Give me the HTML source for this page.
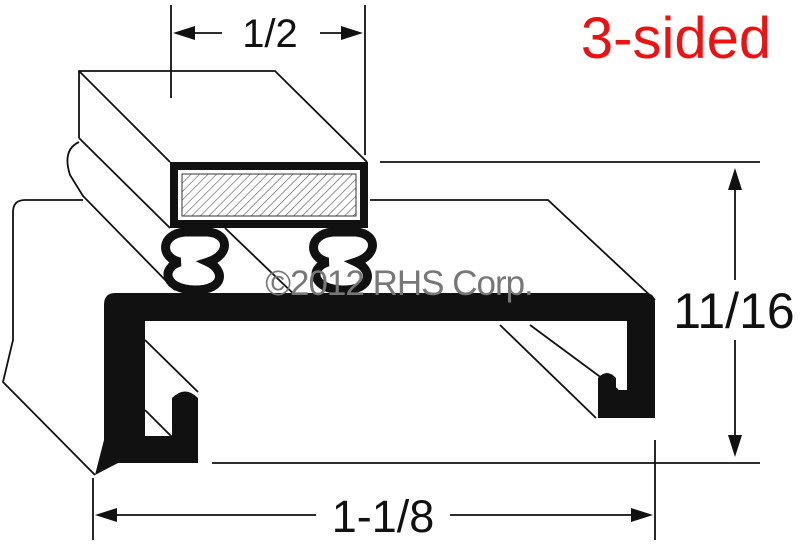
<!DOCTYPE html>
<html><head><style>body{margin:0;background:#fff}svg{display:block}</style></head><body>
<svg width="800" height="558" viewBox="0 0 800 558" xmlns="http://www.w3.org/2000/svg">
<defs>
<pattern id="h" width="6" height="6" patternUnits="userSpaceOnUse" patternTransform="rotate(45)">
<rect width="6" height="6" fill="#fff"/><line x1="0" y1="0" x2="0" y2="6" stroke="#555" stroke-width="1.2"/></pattern>
</defs>
<g fill="none" stroke="#111" stroke-width="1.8">
<path d="M83,200 L25,200 Q13,200 13,212 L13,340 L3,382 L95,475"/>
<path d="M370,200 L548,200 L655,300"/>
<path d="M79,138 L79,71 L275,71 L367,162"/>
<path d="M79,71 L170,162"/>
<path d="M79,138 L170,228"/>
<path d="M79,142 Q62,150 70,175 L83,196 L175,290"/>
<path d="M225,228 L300,300"/>
<path d="M145,340 L198,392"/>
<path d="M145,410 L172,437"/>
<path d="M500,325 L596,418"/>
<path d="M530,325 L618,390"/>
<path d="M171,5 L171,98 M365,5 L365,155"/>
<path d="M190,33 L222,33 M320,33 L350,33"/>
<path d="M380,162 L760,162 M212,463 L760,463"/>
<path d="M735,185 L735,280 M735,340 L735,440"/>
<path d="M93,478 L93,540 M655,440 L655,540"/>
<path d="M110,515 L316,515 M450,515 L640,515"/>
</g>
<g fill="#111">
<polygon points="173,33 195,26 195,40"/>
<polygon points="363,33 341,26 341,40"/>
<polygon points="735,168 728,190 742,190"/>
<polygon points="735,457 728,435 742,435"/>
<polygon points="95,515 117,508 117,522"/>
<polygon points="653,515 631,508 631,522"/>
<rect x="170" y="162" width="198" height="66"/>
<path d="M115,293 L645,293 Q655,293 655,303 L655,418 L598,418 L598,378 Q607,368 616,378 L616,390 L627,390 L627,321 L145,321 L145,436 L172,436 L172,398 Q185,385 198,398 L198,463 L118,463 L95,475 L104,440 L104,305 Q104,293 115,293 Z"/>
</g>
<rect x="178" y="170" width="182" height="50" fill="#fff"/>
<rect x="182" y="174" width="174" height="42" fill="url(#h)" stroke="#333" stroke-width="1"/>
<g fill="none" stroke="#111" stroke-width="9">
<path d="M185,232 C160,234 160,258 180,262 C160,268 165,290 195,290 C225,290 225,270 208,262 C230,255 230,234 208,232 Z"/>
<path d="M185,232 C160,234 160,258 180,262 C160,268 165,290 195,290 C225,290 225,270 208,262 C230,255 230,234 208,232 Z" transform="translate(148,0)"/>
</g>
<g font-family="Liberation Sans, sans-serif">
<text x="270" y="47" font-size="40" text-anchor="middle" fill="#111">1/2</text>
<text x="676" y="58" font-size="58" text-anchor="middle" fill="#ee1111">3-sided</text>
<text x="734" y="328" font-size="50" text-anchor="middle" fill="#111">11/16</text>
<text x="383" y="532" font-size="45" text-anchor="middle" fill="#111">1-1/8</text>
<text x="399" y="295" font-size="35" text-anchor="middle" fill="#777" letter-spacing="-1">©2012 RHS Corp.</text>
</g>
</svg>
</body></html>
